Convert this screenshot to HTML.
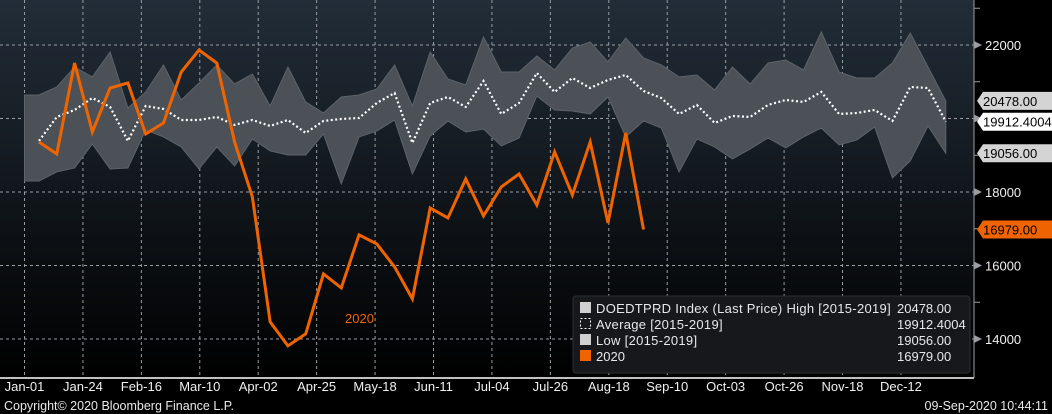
<!DOCTYPE html>
<html><head><meta charset="utf-8"><style>
body{margin:0;background:#000;}
svg{display:block;font-family:"Liberation Sans",sans-serif;}
</style></head><body>
<svg id="c" width="1052" height="414" viewBox="0 0 1052 414">
<defs><linearGradient id="bg" x1="0" y1="0" x2="0" y2="1">
<stop offset="0" stop-color="#222d38"/><stop offset="1" stop-color="#000000"/></linearGradient></defs>
<rect x="0" y="0" width="1052" height="414" fill="#000"/>
<rect x="0" y="0" width="974" height="378" fill="url(#bg)"/>
<g id="grid"></g><g id="series"></g><g id="axes"></g><g id="tags"></g>
<g>
<rect x="573" y="296" width="397" height="77" rx="3" fill="#16181b" stroke="#2c2f33"/>
<g font-size="13" fill="#e8e8e8">
<rect x="580" y="302" width="11" height="11" fill="#d0d0d0"/>
<text x="596" y="313" letter-spacing="0.3">DOEDTPRD Index (Last Price) High [2015-2019]</text>
<text x="897" y="313">20478.00</text>
<rect x="580.5" y="318.5" width="10" height="10" fill="none" stroke="#fff" stroke-dasharray="2,2"/>
<text x="596" y="329" letter-spacing="0.3">Average [2015-2019]</text>
<text x="897" y="329">19912.4004</text>
<rect x="580" y="334" width="11" height="11" fill="#d0d0d0"/>
<text x="596" y="345" letter-spacing="0.3">Low [2015-2019]</text>
<text x="897" y="345">19056.00</text>
<rect x="580" y="350" width="11" height="11" fill="#f06400"/>
<text x="596" y="361">2020</text>
<text x="897" y="361">16979.00</text>
</g></g>
<text x="345" y="323" font-size="13" fill="#f06400">2020</text>
<text x="4" y="410" font-size="12.5" fill="#e8e8e8">Copyright© 2020 Bloomberg Finance L.P.</text>
<text x="1048" y="410" font-size="12.5" fill="#e8e8e8" text-anchor="end">09-Sep-2020 10:44:11</text>
</svg>
<script>
const xLabels=["Jan-01","Jan-24","Feb-16","Mar-10","Apr-02","Apr-25","May-18","Jun-11","Jul-04","Jul-26","Aug-18","Sep-10","Oct-03","Oct-26","Nov-18","Dec-12"];
const yTicks=[14000,16000,18000,20000,22000];
const high=[20640,20858,21402,21130,21810,20286,20722,21456,20504,20966,21456,20939,21211,20341,21402,20450,20150,20586,20640,20803,21456,20341,21810,21075,20912,22218,21266,21266,21701,21320,21918,22082,21538,22190,21646,21456,21130,21184,20776,21402,20939,21510,21592,21320,22354,21266,21102,21102,21510,22326,21402,20478];
const avg=[19389,20042,20232,20558,20314,19389,20341,20259,19960,19960,20042,19824,19960,19797,19960,19606,19933,19987,20014,20422,20694,19334,20422,20586,20314,21021,20123,20422,21238,20722,21102,20830,21048,21184,20749,20558,20123,20368,19878,20069,20042,20368,20504,20450,20722,20123,20150,20232,19933,20858,20830,19912.4004];
const low=[18301,18546,18654,19307,18627,18654,19688,19498,19226,18627,19226,18709,19443,19117,19008,19008,19579,18219,19498,19661,19960,18491,19525,19933,19634,19715,19253,19470,20613,20232,20205,20123,20586,19498,19933,19742,18546,19443,19226,18899,19171,19470,19198,19498,19742,19280,19416,19770,18382,18845,19797,19056];
const y2020=[19361,19034,21510,19633,20830,20966,19578,19878,21265,21864,21510,19361,17866,14466,13813,14139,15771,15390,16832,16587,15962,15091,17566,17294,18355,17349,18138,18491,17648,19090,17920,19362,17158,19606,16979];
const tagVals=[20478,19912.4004,19056,16979];
const tagText=["20478.00","19912.4004","19056.00","16979.00"];

const NS="http://www.w3.org/2000/svg";
function y(v){return 45+(22000-v)*0.036750;}
function xw(i){return 39+i*17.78;}
function xl(i){return 24.5+i*58.43;}
function mk(t,a,p){const e=document.createElementNS(NS,t);for(const k in a)e.setAttribute(k,a[k]);p.appendChild(e);return e;}
const grid=document.getElementById('grid'),ser=document.getElementById('series'),ax=document.getElementById('axes'),tags=document.getElementById('tags');
yTicks.forEach(v=>{const l=mk('line',{x1:0,x2:974,y1:y(v),y2:y(v),stroke:'#9a9ea3','stroke-width':1,'stroke-dasharray':'3,3'},grid);


const t=mk('text',{x:985,y:y(v)+5,'font-size':13,fill:'#f0f0f0'},ax);t.textContent=v;


const a=mk('polygon',{points:`974,${y(v)-4} 982,${y(v)} 974,${y(v)+4}`,fill:'#9a9ea3'},ax);


const m=mk('line',{x1:974,x2:980,y1:y(v+1000),y2:y(v+1000),stroke:'#9a9ea3'},ax);

});
xLabels.forEach((s,i)=>{const l=mk('line',{x1:xl(i),x2:xl(i),y1:0,y2:378,stroke:'#9a9ea3','stroke-width':1,'stroke-dasharray':'3,3'},grid);


const t=mk('text',{x:xl(i),y:391,'font-size':13,fill:'#f0f0f0','text-anchor':'middle'},ax);t.textContent=s;

});
let p=`M${xl(0)},${y(high[0])} `;high.forEach((v,i)=>p+=`L${xw(i)},${y(v)} `);
for(let i=low.length-1;i>=0;i--)p+=`L${xw(i)},${y(low[i])} `;p+=`L${xl(0)},${y(low[0])} Z`;
const band=mk('path',{d:p,fill:'#4b5157',stroke:'#5d636a','stroke-width':1},ser);


const av=mk('polyline',{points:avg.map((v,i)=>xw(i)+','+y(v)).join(' '),fill:'none',stroke:'#fff','stroke-width':2.2,'stroke-dasharray':'2,2.5'},ser);


const ln=mk('polyline',{points:y2020.map((v,i)=>xw(i)+','+y(v)).join(' '),fill:'none',stroke:'#f06400','stroke-width':3,'stroke-linejoin':'miter'},ser);


const xa=mk('line',{x1:0,x2:974,y1:378,y2:378,stroke:'#fff','stroke-width':1.5},ax);


const ya=mk('line',{x1:974,x2:974,y1:0,y2:378,stroke:'#9a9ea3','stroke-width':1},ax);


const tagFill=['#d4d4d4','#ffffff','#d4d4d4','#f06400'];
tagVals.forEach((v,i)=>{const c=y(v);
const g=mk('polygon',{points:`977,${c} 983,${c-9} 1052,${c-9} 1052,${c+9} 983,${c+9}`,fill:tagFill[i]},tags);


const t=mk('text',{x:983,y:c+5,'font-size':13,fill:'#000'},tags);t.textContent=tagText[i];

});
</script>
</body></html>
